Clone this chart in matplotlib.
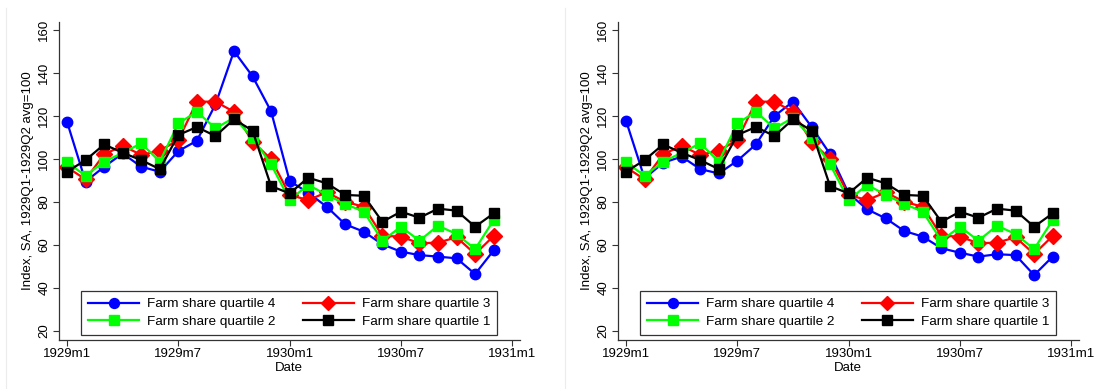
import numpy as np
import matplotlib
matplotlib.use("Agg")
from matplotlib import pyplot as plt
from matplotlib.lines import Line2D

plt.rcParams["font.family"] = ["Liberation Sans", "DejaVu Sans"]

# months since 1929m1
months = np.arange(24)
tick_pos = [0, 6, 12, 18, 24]
tick_labels = ["1929m1", "1929m7", "1930m1", "1930m7", "1931m1"]
y_ticks = [20, 40, 60, 80, 100, 120, 140, 160]

q4_left = [117.3, 89.5, 96.4, 102.6, 96.4, 94.1, 103.7, 108.5, 125.4, 150.2, 138.5, 122.2,
           89.8, 84.3, 77.8, 69.6, 66.2, 60.3, 56.9, 55.3, 54.6, 53.8, 46.5, 57.5]
q4_right = [117.8, 91.0, 98.3, 101.1, 95.3, 93.3, 99.2, 106.8, 120.0, 126.7, 115.0, 102.3,
            84.0, 76.6, 72.4, 66.5, 63.9, 58.5, 56.4, 54.6, 55.7, 55.3, 46.0, 54.6]
q3 = [96.2, 90.5, 102.2, 106.2, 101.9, 103.9, 108.8, 126.7, 126.7, 122.0, 108.1, 100.0,
      83.3, 80.9, 84.5, 80.1, 77.8, 64.3, 63.9, 60.8, 61.1, 63.6, 55.8, 64.2]
q2 = [98.5, 92.2, 98.8, 102.9, 107.3, 98.8, 116.6, 122.0, 114.3, 119.2, 109.9, 97.5,
      80.9, 88.0, 83.3, 79.1, 75.5, 62.0, 68.5, 62.0, 69.0, 65.1, 58.1, 71.6]
q1 = [94.1, 99.5, 106.8, 102.9, 99.5, 95.3, 111.2, 114.9, 110.7, 118.5, 113.2, 87.4,
      84.0, 91.3, 88.7, 83.3, 82.9, 70.8, 75.5, 72.7, 76.9, 76.0, 68.5, 74.7]

W, H = 1096, 389
fig = plt.figure(figsize=(W / 100, H / 100), dpi=100)

# faint panel borders
for xp in (6, 565):
    fig.add_artist(Line2D([xp / W, xp / W], [0, 1 - 8 / H], color="#ececec", lw=0.8))


def panel(ax, q4):
    series = [
        (q4, "blue", "o", 7.5, "Farm share quartile 4"),
        (q3, "red", "D", 8.0, "Farm share quartile 3"),
        (q2, "#00ff00", "s", 7.5, "Farm share quartile 2"),
        (q1, "black", "s", 7.5, "Farm share quartile 1"),
    ]
    lines = []
    for vals, col, mk, ms, lab in series:
        ln, = ax.plot(months, vals, color=col, marker=mk, markersize=ms, lw=1.6, label=lab)
        lines.append(ln)

    ax.set_xlim(-0.45, 24.42)
    ax.set_ylim(15.8, 163.9)
    ax.set_xticks(tick_pos)
    ax.set_xticklabels(tick_labels)
    ax.set_yticks(y_ticks)
    ax.set_yticklabels([str(v) for v in y_ticks], rotation=90, va="center")
    ax.tick_params(labelsize=9.5, length=4, width=0.8, color="#333333", pad=2)
    for side in ("top", "right"):
        ax.spines[side].set_visible(False)
    for side in ("left", "bottom"):
        ax.spines[side].set_linewidth(0.9)
        ax.spines[side].set_color("#333333")
    ax.set_xlabel("Date", fontsize=9.5, labelpad=1)
    ax.set_ylabel("Index, SA, 1929Q1-1929Q2 avg=100", fontsize=9.5, labelpad=3)

    # legend rows: Q4 | Q3, then Q2 | Q1 (matplotlib fills by column)
    order = [0, 2, 1, 3]
    handles = [lines[i] for i in order]
    leg = ax.legend(handles, [h.get_label() for h in handles],
                    loc="lower center", bbox_to_anchor=(0.5, 0.016), ncol=2,
                    fontsize=9.7, frameon=True, fancybox=False, edgecolor="black",
                    handlelength=3.8, handletextpad=0.6, columnspacing=2.0,
                    labelspacing=0.4, borderpad=0.5, borderaxespad=0,
                    markerscale=0.95)
    leg.get_frame().set_linewidth(0.9)


ax1 = fig.add_axes([58.7 / W, 49 / H, 461.3 / W, 318.3 / H])
ax2 = fig.add_axes([617.7 / W, 49 / H, 461.3 / W, 318.3 / H])
panel(ax1, q4_left)
panel(ax2, q4_right)

fig.savefig("out.png", dpi=100, facecolor="white")
